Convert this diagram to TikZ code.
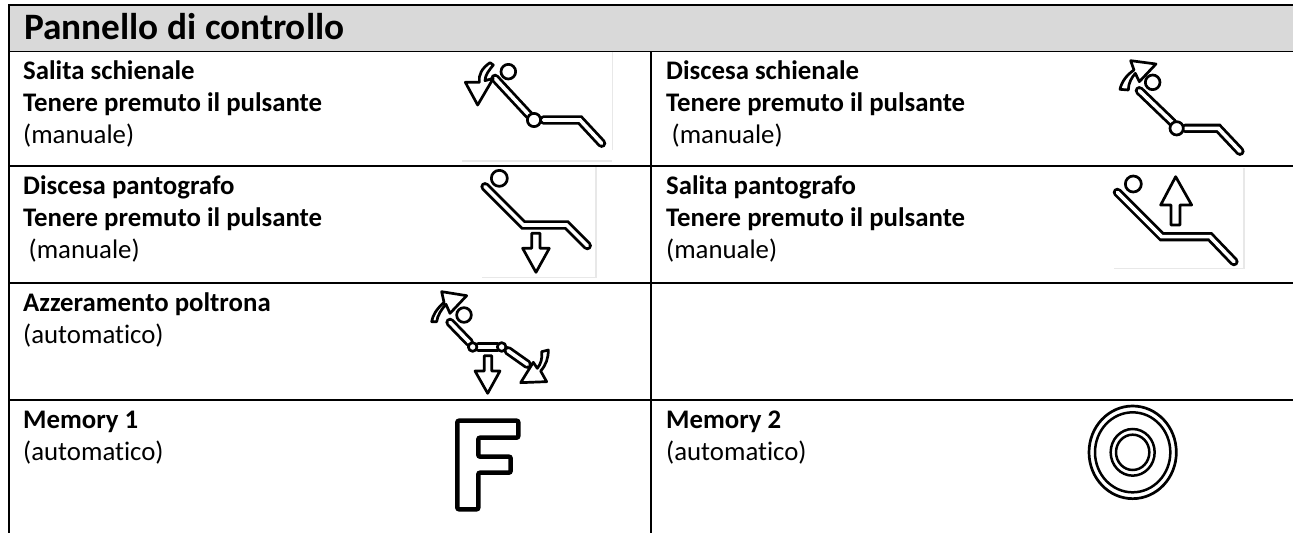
\documentclass[tikz,border=0pt]{standalone}
\usepackage{fontspec}
\setmainfont[Ligatures=NoCommon]{Carlito}
\tikzset{
  rule/.style={black,line width=2pt},
  head/.style={font=\bfseries\fontsize{37.3}{40}\selectfont,anchor=base west,inner sep=0pt},
  cell/.style={font=\fontsize{26.8}{32.3}\selectfont,anchor=north west,inner sep=0pt,align=left},
  faint/.style={draw=black!9,line width=1.2pt},
  ic/.style={draw=black,line width=2.7pt,line join=round,fill=white},
  ring/.style={draw=black,line width=2.5pt},
  dbl/.style={double=white,draw=black,double distance=3.6pt,line width=2.8pt,line join=miter,line cap=round},
  icon/.style={shift={#1},x=0.3333pt,y=-0.3333pt}
}
\begin{document}
\begin{tikzpicture}[x=1pt,y=-1pt]
\useasboundingbox (0,0) rectangle (1293,533);
\fill[white] (0,0) rectangle (1293,533);
\fill[black!15] (9,5) rectangle (1293,51);
\draw[black,line width=2.6pt] (9,5) -- (1293,5);
\draw[rule] (9,4) -- (9,533);
\draw[rule] (651,51) -- (651,533);
\draw[black,line width=1.6pt] (9,51.5) -- (1293,51.5);
\draw[black,line width=1.6pt] (9,166) -- (1293,166);
\draw[black,line width=1.6pt] (9,283) -- (1293,283);
\draw[black,line width=1.6pt] (9,400) -- (1293,400);

\node[head] (title) at (24,39.5) {Pannello di controllo};
\node[cell] (c1) at (23,56.4) {\strut\textbf{Salita schienale}\\\textbf{Tenere premuto il pulsante}\\(manuale)};
\node[cell] (c2) at (666,56.4) {\strut\textbf{Discesa schienale}\\\textbf{Tenere premuto il pulsante}\\\hspace{5.5pt}(manuale)};
\node[cell] (c3) at (23,171.4) {\strut\textbf{Discesa pantografo}\\\textbf{Tenere premuto il pulsante}\\\hspace{5.5pt}(manuale)};
\node[cell] (c4) at (666,171.4) {\strut\textbf{Salita pantografo}\\\textbf{Tenere premuto il pulsante}\\(manuale)};
\node[cell] (c5) at (23,288.4) {\strut\textbf{Azzeramento poltrona}\\(automatico)};
\node[cell] (c6) at (23,405.4) {\strut\textbf{Memory 1}\\(automatico)};
\node[cell] (c7) at (666,405.4) {\strut\textbf{Memory 2}\\(automatico)};

% icon 1: backrest up
\begin{scope}[icon={(430,40)}]
\fill[white] (96,36) rectangle (548,110);
\draw[faint] (548,36) -- (548,330);
\draw[dbl] (195,115) -- (297,225);
\draw[dbl] (340,240) -- (450,240) -- (515,310);
\draw[ic] (235,95) circle (22);
\draw[ic] (312,240) circle (20);
\draw[ic] (180,68) .. controls (155,85) and (145,105) .. (148,127) -- (106,127) -- (143,195) -- (190,115) -- (165,122) .. controls (165,105) and (178,90) .. (190,75) -- cycle;
\end{scope}
\draw[faint] (462,161) -- (612,161);

% icon 2: backrest down
\begin{scope}[icon={(1040,40)}]
\fill[white] (225,36) rectangle (618,60);
\draw[dbl] (298,152) -- (398,248);
\draw[dbl] (435,265) -- (535,265) -- (600,334);
\draw[ic] (338,127) circle (22);
\draw[ic] (410,265) circle (20);
\draw[ic] (240,148) .. controls (245,125) and (260,105) .. (282,90) -- (272,62) -- (348,72) -- (298,125) -- (286,100) .. controls (275,112) and (265,130) .. (265,150) -- cycle;
\end{scope}

% icon 3: pantograph down
\begin{scope}[icon={(430,155)}]
\fill[white] (150,36) rectangle (498,60);
\draw[faint] (498,36) -- (498,368) -- (155,368);
\draw[dbl] (165,95) -- (280,210) -- (410,210) -- (472,272);
\draw[ic] (208,70) circle (24);
\draw[ic] (305,235) -- (330,235) -- (330,280) -- (358,280) -- (318,352) -- (278,280) -- (305,280) -- cycle;
\end{scope}

% icon 4: pantograph up
\begin{scope}[icon={(1040,155)}]
\draw[faint] (612,40) -- (612,340) -- (222,340);
\draw[dbl] (232,112) -- (365,245) -- (510,245) -- (582,320);
\draw[ic] (280,87) circle (24);
\draw[ic] (407,65) -- (455,150) -- (420,150) -- (420,210) -- (393,210) -- (393,150) -- (362,150) -- cycle;
\end{scope}

% icon 5: reset
\begin{scope}[icon={(420,285)}]
\draw[dbl] (90,112) -- (148,172);
\draw[dbl] (175,186) -- (232,186);
\draw[dbl] (264,197) -- (322,238);
\draw[ic] (132,90) circle (22);
\draw[ic] (158,186) circle (13);
\draw[ic] (245,186) circle (13);
\draw[ic] (35,110) .. controls (38,90) and (50,72) .. (72,52) -- (65,20) -- (140,32) -- (90,85) -- (78,58) .. controls (65,72) and (52,92) .. (50,110) -- cycle;
\draw[ic] (193,212) -- (215,212) -- (215,258) -- (240,258) -- (203,325) -- (165,258) -- (193,258) -- cycle;
\draw[ic] (385,195) -- (365,200) .. controls (368,220) and (362,238) .. (352,250) -- (340,232) -- (302,293) -- (380,290) -- (362,258) .. controls (378,240) and (385,220) .. (385,195) -- cycle;
\end{scope}

% icon 6: F
\begin{scope}[icon={(420,400)}]
\draw[black,line width=4.6pt,rounded corners=2pt,fill=white] (112,62) -- (295,62) -- (295,113) -- (175,113) -- (175,170) -- (272,170) -- (272,218) -- (175,218) -- (175,328) -- (112,328) -- cycle;
\end{scope}

% icon 7: rings
\begin{scope}[icon={(1110,400)}]
\draw[ring,line width=2.7pt] (68,157) ellipse (131 and 139);
\draw[ring] (68,157) ellipse (113 and 120);
\draw[ring] (68,157) ellipse (66 and 70);
\draw[ring] (68,157) ellipse (50 and 53);
\end{scope}
\end{tikzpicture}
\end{document}
